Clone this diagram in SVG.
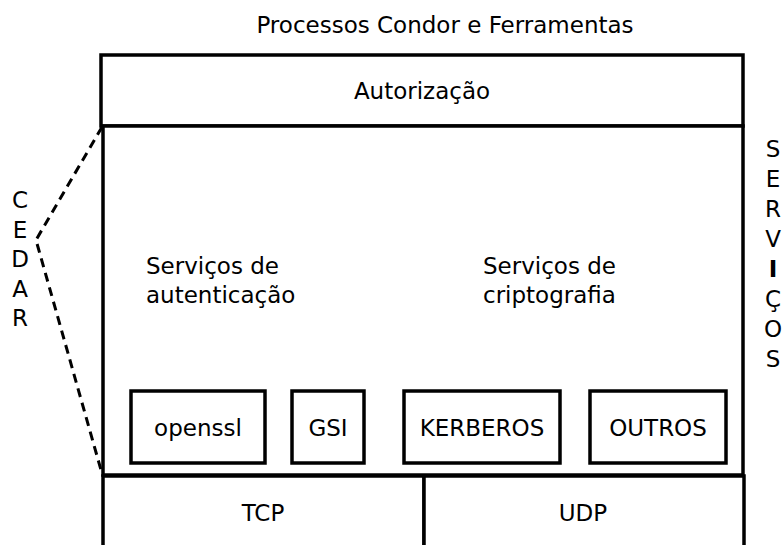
<svg xmlns="http://www.w3.org/2000/svg" width="782" height="545" viewBox="0 0 782 545">
<style>
text{font-family:"DejaVu Sans","Liberation Sans",sans-serif;font-size:23px;fill:#000}
.b{fill:#fff;stroke:#000;stroke-width:3.5}
.c{text-anchor:middle}
.d{fill:none;stroke:#000;stroke-width:3;stroke-dasharray:9,6}
</style>
<rect width="782" height="545" fill="#fff"/>
<text x="445" y="33" class="c">Processos Condor e Ferramentas</text>
<g id="autorizacao"><rect class="b" x="101" y="55" width="642" height="71"/><text x="422" y="99" class="c">Autorização</text></g>
<g id="servicos"><rect class="b" x="103" y="126" width="640" height="349"/>
<text x="146" y="274">Serviços de</text><text x="146" y="303">autenticação</text>
<text x="483" y="274">Serviços de</text><text x="483" y="303">criptografia</text></g>
<g id="openssl"><rect class="b" x="131" y="391" width="134" height="72"/><text x="198" y="436" class="c">openssl</text></g>
<g id="gsi"><rect class="b" x="292" y="391" width="72" height="72"/><text x="328" y="436" class="c">GSI</text></g>
<g id="kerberos"><rect class="b" x="404" y="391" width="156" height="72"/><text x="482" y="436" class="c">KERBEROS</text></g>
<g id="outros"><rect class="b" x="590" y="391" width="136" height="72"/><text x="658" y="436" class="c">OUTROS</text></g>
<g id="tcp"><rect class="b" x="103" y="476" width="321" height="80"/><text x="263" y="521" class="c">TCP</text></g>
<g id="udp"><rect class="b" x="424" y="476" width="320" height="80"/><text x="583" y="521" class="c">UDP</text></g>
<g id="connectors"><polyline class="d" points="102,127 36,240 101,470"/></g>
<g id="cedar" class="c">
<text x="20" y="208">C</text><text x="20" y="238">E</text><text x="20" y="267">D</text><text x="20" y="297">A</text><text x="20" y="326">R</text>
</g>
<g id="servicos-label" class="c">
<text x="773" y="157">S</text><text x="773" y="187">E</text><text x="773" y="217">R</text><text x="773" y="247">V</text><text x="773" y="277" font-weight="bold">I</text><text x="773" y="307">Ç</text><text x="773" y="337">O</text><text x="773" y="367">S</text>
</g>
</svg>
